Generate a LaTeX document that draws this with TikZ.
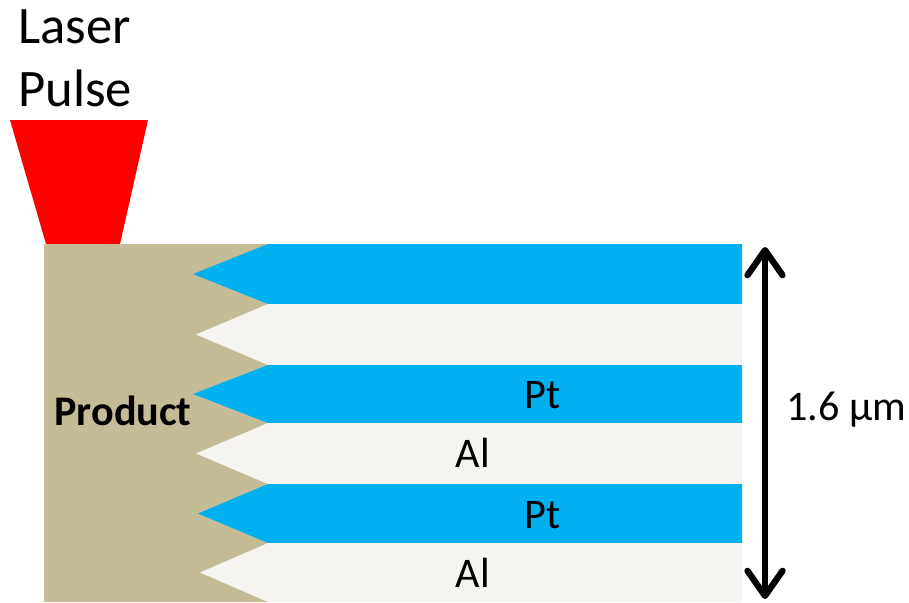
\documentclass[tikz,border=0pt]{standalone}
\usepackage{fontspec}
\setmainfont{Carlito}
\usepackage{xcolor}
\usepackage{tikz}
\usetikzlibrary{arrows.meta}
\usetikzlibrary{positioning}

\definecolor{ptblue}{HTML}{00B0F0}
\definecolor{alwhite}{HTML}{F5F4F0}
\definecolor{prodtan}{HTML}{C4BC96}

\begin{document}
\begin{tikzpicture}[x=0.02cm,y=-0.02cm]
	\useasboundingbox (0,0) rectangle (909,602);
	% laser beam
	\fill[red] (10,120) -- (148,120) -- (120,244) -- (46,244) -- cycle;
	\node[align=left,anchor=north west,font=\fontsize{30}{36}\selectfont,inner sep=0pt] (laser) at (18,9) {Laser\\Pulse};
	% product
	\fill[prodtan] (44,244) rectangle (268,602);
	\node[font=\fontsize{24}{28}\selectfont\bfseries] (product) at (123,411) {Product};
	% layers
	\foreach \top/\tip/\bot/\col in {244/193/304/ptblue,304/196/365/alwhite,365/193/423/ptblue,423/196/484/alwhite,484/198/543/ptblue,543/200/602/alwhite}
		\fill[\col] (268,\top) -- (\tip,{(\top+\bot)/2}) -- (268,\bot) -- (742,\bot) -- (742,\top) -- cycle;
	\node[font=\fontsize{24}{28}\selectfont] (pt1) at (543,395) {Pt};
	\node[font=\fontsize{24}{28}\selectfont] (al1) at (473,453) {Al};
	\node[font=\fontsize{24}{28}\selectfont] (pt2) at (543,515) {Pt};
	\node[font=\fontsize{24}{28}\selectfont] (al2) at (473,573) {Al};
	% thickness
	\coordinate (top) at (765,247);
	\coordinate (bot) at (765,599);
	\draw[line width=3.6pt,{Straight Barb[length=0.5cm,width=0.7cm,round,line width=3.6pt]}-{Straight Barb[length=0.5cm,width=0.7cm,round,line width=3.6pt]}] (top) -- (bot);
	\node[font=\fontsize{24}{28}\selectfont,anchor=west] (thick) at (780,410) {1.6 µm};
\end{tikzpicture}
\end{document}
